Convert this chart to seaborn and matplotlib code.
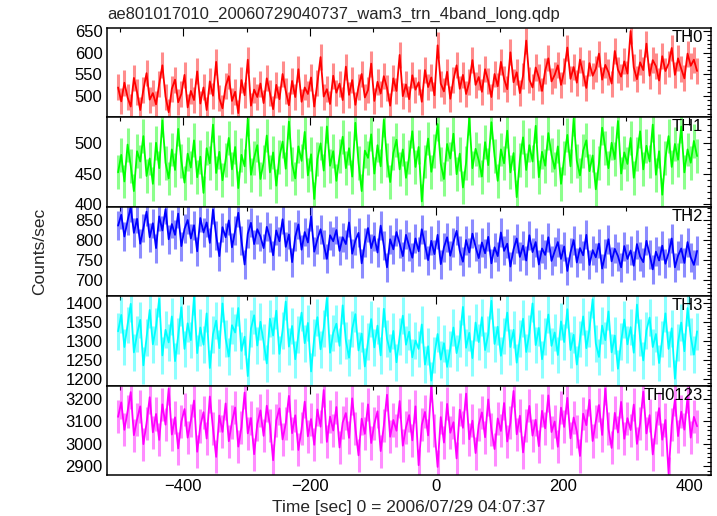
import numpy as np
import pandas as pd
import seaborn as sns
import matplotlib.pyplot as plt
from matplotlib.ticker import MultipleLocator

# ---------------- data (read/estimated from the reference) ----------------
time_s = np.arange(-503, 413, 5)  # bin centres [sec]

th0 = [520, 488, 531, 497, 476, 542, 509, 468, 515, 553, 492, 507, 481, 528, 571, 499, 463, 517, 538, 486, 505, 549, 474,
       512, 491, 557, 483, 520, 468, 534, 501, 579, 495, 472, 523, 546, 489, 510, 461, 537, 502, 584, 478, 515, 498, 529,
       484, 541, 507, 470, 526, 493, 551, 512, 479, 535, 498, 562, 487, 520, 505, 543, 476, 531, 590, 499, 516, 482, 547,
       508, 529, 491, 568, 503, 537, 480, 522, 551, 497, 514, 575, 489, 533, 506, 546, 519, 478, 541, 512, 595, 500, 527,
       493, 548, 515, 532, 487, 560, 521, 543, 502, 617, 529, 511, 556, 494, 538, 571, 517, 549, 505, 532, 583, 526, 544,
       510, 562, 535, 498, 551, 523, 579, 540, 516, 601, 532, 555, 507, 547, 628, 538, 520, 566, 543, 512, 559, 587, 534,
       549, 571, 526, 558, 612, 540, 567, 531, 584, 553, 519, 576, 547, 563, 598, 538, 572, 555, 529, 604, 561, 545, 580,
       552, 650, 566, 539, 578, 560, 621, 547, 583, 569, 536, 592, 558, 575, 611, 549, 587, 563, 541, 598, 570, 584, 558]

th1 = [452, 481, 437, 498, 463, 421, 487, 470, 512, 446, 475, 433, 501, 459, 538, 468, 442, 490, 456, 524, 471, 435, 483,
       460, 505, 444, 478, 418, 492, 467, 531, 451, 486, 439, 473, 509, 457, 494, 426, 481, 462, 540, 448, 476, 497, 441,
       469, 513, 452, 485, 430, 477, 503, 458, 536, 466, 442, 495, 471, 519, 447, 482, 408, 474, 500, 455, 528, 463, 487,
       438, 479, 511, 459, 492, 445, 534, 468, 421, 488, 476, 515, 450, 497, 462, 539, 473, 436, 484, 506, 457, 490, 443,
       478, 520, 461, 494, 404, 470, 508, 453, 487, 532, 466, 441, 499, 475, 516, 449, 483, 427, 468, 542, 459, 491, 472,
       445, 502, 464, 535, 479, 438, 490, 467, 521, 452, 484, 411, 473, 510, 456, 497, 470, 529, 444, 486, 463, 517, 481,
       458, 495, 433, 476, 514, 462, 541, 471, 447, 488, 505, 454, 480, 424, 467, 526, 492, 459, 501, 474, 537, 450, 485,
       466, 509, 443, 482, 520, 457, 496, 470, 531, 448, 487, 415, 476, 512, 461, 499, 473, 528, 452, 490, 468, 504, 479]

th2 = [835, 862, 808, 847, 881, 817, 852, 790, 829, 870, 806, 841, 779, 858, 823, 876, 801, 839, 812, 865, 784, 827, 849,
       803, 836, 771, 854, 818, 843, 792, 875, 810, 759, 831, 806, 848, 781, 822, 867, 797, 738, 815, 842, 789, 826, 808,
       779, 832, 805, 761, 823, 796, 851, 782, 813, 744, 807, 838, 775, 819, 793, 858, 770, 801, 826, 788, 752, 811, 796,
       824, 772, 806, 789, 843, 765, 798, 817, 741, 792, 829, 779, 808, 768, 835, 785, 731, 801, 776, 819, 790, 759, 812,
       784, 755, 803, 771, 826, 788, 749, 797, 764, 812, 739, 781, 806, 760, 794, 822, 772, 745, 799, 768, 815, 782, 754,
       793, 766, 807, 741, 781, 759, 818, 772, 790, 733, 776, 803, 757, 785, 748, 811, 769, 794, 738, 778, 762, 806, 747,
       771, 794, 752, 783, 722, 768, 799, 743, 779, 761, 812, 737, 774, 756, 790, 728, 765, 801, 746, 777, 759, 731, 784,
       752, 773, 735, 789, 758, 744, 797, 763, 726, 770, 748, 785, 740, 767, 803, 731, 760, 778, 742, 794, 756, 737, 772]

th3 = [1325, 1368, 1284, 1342, 1397, 1270, 1318, 1355, 1236, 1309, 1381, 1291, 1337, 1410, 1262, 1329, 1296, 1364, 1247, 1313, 1388, 1279, 1346,
       1302, 1415, 1268, 1335, 1290, 1372, 1229, 1317, 1353, 1281, 1398, 1306, 1259, 1341, 1322, 1386, 1274, 1311, 1208, 1332, 1367, 1288, 1350,
       1297, 1241, 1358, 1314, 1379, 1266, 1328, 1403, 1285, 1339, 1252, 1316, 1374, 1294, 1347, 1220, 1308, 1362, 1278, 1333, 1412, 1269, 1321,
       1345, 1287, 1393, 1301, 1256, 1331, 1370, 1275, 1319, 1233, 1298, 1357, 1283, 1340, 1262, 1384, 1306, 1271, 1326, 1244, 1312, 1366, 1290,
       1324, 1257, 1301, 1279, 1343, 1238, 1286, 1196, 1263, 1318, 1251, 1294, 1232, 1279, 1335, 1268, 1307, 1389, 1282, 1321, 1255, 1348, 1297,
       1362, 1276, 1318, 1405, 1292, 1337, 1261, 1313, 1374, 1284, 1329, 1243, 1306, 1358, 1271, 1320, 1398, 1289, 1334, 1252, 1311, 1369, 1287,
       1322, 1263, 1351, 1297, 1383, 1276, 1316, 1238, 1305, 1364, 1281, 1331, 1409, 1293, 1258, 1340, 1302, 1377, 1270, 1314, 1227, 1298, 1356,
       1291, 1336, 1269, 1395, 1308, 1249, 1327, 1361, 1284, 1318, 1242, 1305, 1372, 1279, 1333, 1201, 1296, 1348, 1273, 1386, 1311, 1264, 1325]

th0123 = [3120, 3185, 3062, 3144, 3231, 3038, 3109, 3167, 2998, 3092, 3208, 3051, 3133, 3017, 3176, 3085, 3246, 3041, 3118, 2979, 3098, 3155, 3027,
          3102, 3193, 2964, 3079, 3141, 3023, 3211, 3068, 2941, 3126, 3053, 3180, 3011, 3097, 3162, 2987, 3074, 3229, 3046, 3115, 2953, 3088, 3149,
          3035, 3170, 3082, 2926, 3104, 3158, 3019, 3091, 3214, 3047, 3127, 2972, 3066, 3188, 3033, 3110, 2995, 3153, 3076, 3240, 3008, 3121, 3059,
          3164, 2983, 3095, 3137, 3026, 3203, 3070, 2948, 3112, 3044, 3176, 3003, 3089, 3145, 2967, 3081, 3219, 3031, 3106, 3058, 3191, 2991, 3073,
          3128, 3015, 3167, 2904, 3084, 3142, 3037, 3259, 3061, 2896, 3119, 3005, 3178, 3049, 3096, 2934, 3152, 3071, 3224, 3020, 3103, 2958, 3086,
          3140, 3029, 3198, 3064, 2976, 3113, 3057, 3182, 3010, 3093, 3236, 3042, 3125, 2961, 3080, 3169, 3036, 3107, 2989, 3147, 3069, 3216, 3052,
          3099, 2986, 3161, 3075, 3205, 3024, 3117, 3055, 2945, 3134, 3083, 3196, 3012, 3100, 3173, 3039, 3246, 3067, 2981, 3138, 3050, 3187, 3022,
          3114, 3061, 3175, 2999, 3090, 3233, 3046, 3128, 2952, 3071, 3159, 3018, 3106, 2867, 3085, 3197, 3034, 3143, 3063, 3210, 3027, 3120, 3078]

band_names = ["TH0", "TH1", "TH2", "TH3", "TH0123"]
band_values = [th0, th1, th2, th3, th0123]
band_errors = [30, 28, 36, 48, 74]

title = "ae801017010_20060729040737_wam3_trn_4band_long.qdp"
x_label = "Time [sec] 0 = 2006/07/29 04:07:37"
y_label = "Counts/sec"

# ---------------- style ----------------
colors = ["#ff0000", "#00ff00", "#0000ff", "#00ffff", "#ff00ff"]
ylims = [(451, 657), (395, 543), (659, 882), (1183, 1417), (2860, 3260)]
ymajor = [50, 50, 50, 50, 100]
yminor = [10, 10, 10, 10, 20]

sns.set_theme(style="white")
plt.rcParams['font.family'] = ['Liberation Sans', 'DejaVu Sans']

fig, axes = plt.subplots(5, 1, sharex=True, figsize=(7.17, 5.16), dpi=100)
fig.subplots_adjust(left=0.1488, right=0.9916, top=0.9457, bottom=0.0795, hspace=0)

for i, ax in enumerate(axes):
    df = pd.DataFrame({"t": time_s, "rate": band_values[i]})
    ax.errorbar(df["t"], df["rate"], yerr=band_errors[i], fmt="none",
                ecolor=colors[i], elinewidth=2.2, alpha=0.45, capsize=0)
    sns.lineplot(data=df, x="t", y="rate", ax=ax, color=colors[i],
                 lw=1.3, estimator=None, sort=False)
    ax.set_xlim(-521, 434)
    ax.set_ylim(*ylims[i])
    ax.yaxis.set_major_locator(MultipleLocator(ymajor[i]))
    ax.yaxis.set_minor_locator(MultipleLocator(yminor[i]))
    ax.xaxis.set_major_locator(MultipleLocator(200))
    ax.xaxis.set_minor_locator(MultipleLocator(100))
    ax.tick_params(axis="both", which="both", direction="in", top=True, right=True,
                   colors="black", labelsize=12, width=0.8)
    ax.tick_params(axis="both", which="major", length=6, pad=3)
    ax.tick_params(axis="both", which="minor", length=3)
    for s in ax.spines.values():
        s.set_color("black")
        s.set_linewidth(1.1)
    ax.set_xlabel("")
    ax.set_ylabel("")
    ax.text(1 - 8 / 604, 1 - 2 / 89, band_names[i], transform=ax.transAxes,
            ha="right", va="top", fontsize=12, color="black")

axes[-1].set_xlabel(x_label, fontsize=12.5, labelpad=4)
fig.text(107 / 717, 1 - 14 / 516, title, ha="left", va="center", fontsize=12)
fig.text(40 / 717, 1 - 251 / 516, y_label, rotation=90, ha="center", va="center", fontsize=12.5)

fig.savefig("out.png", dpi=100)
